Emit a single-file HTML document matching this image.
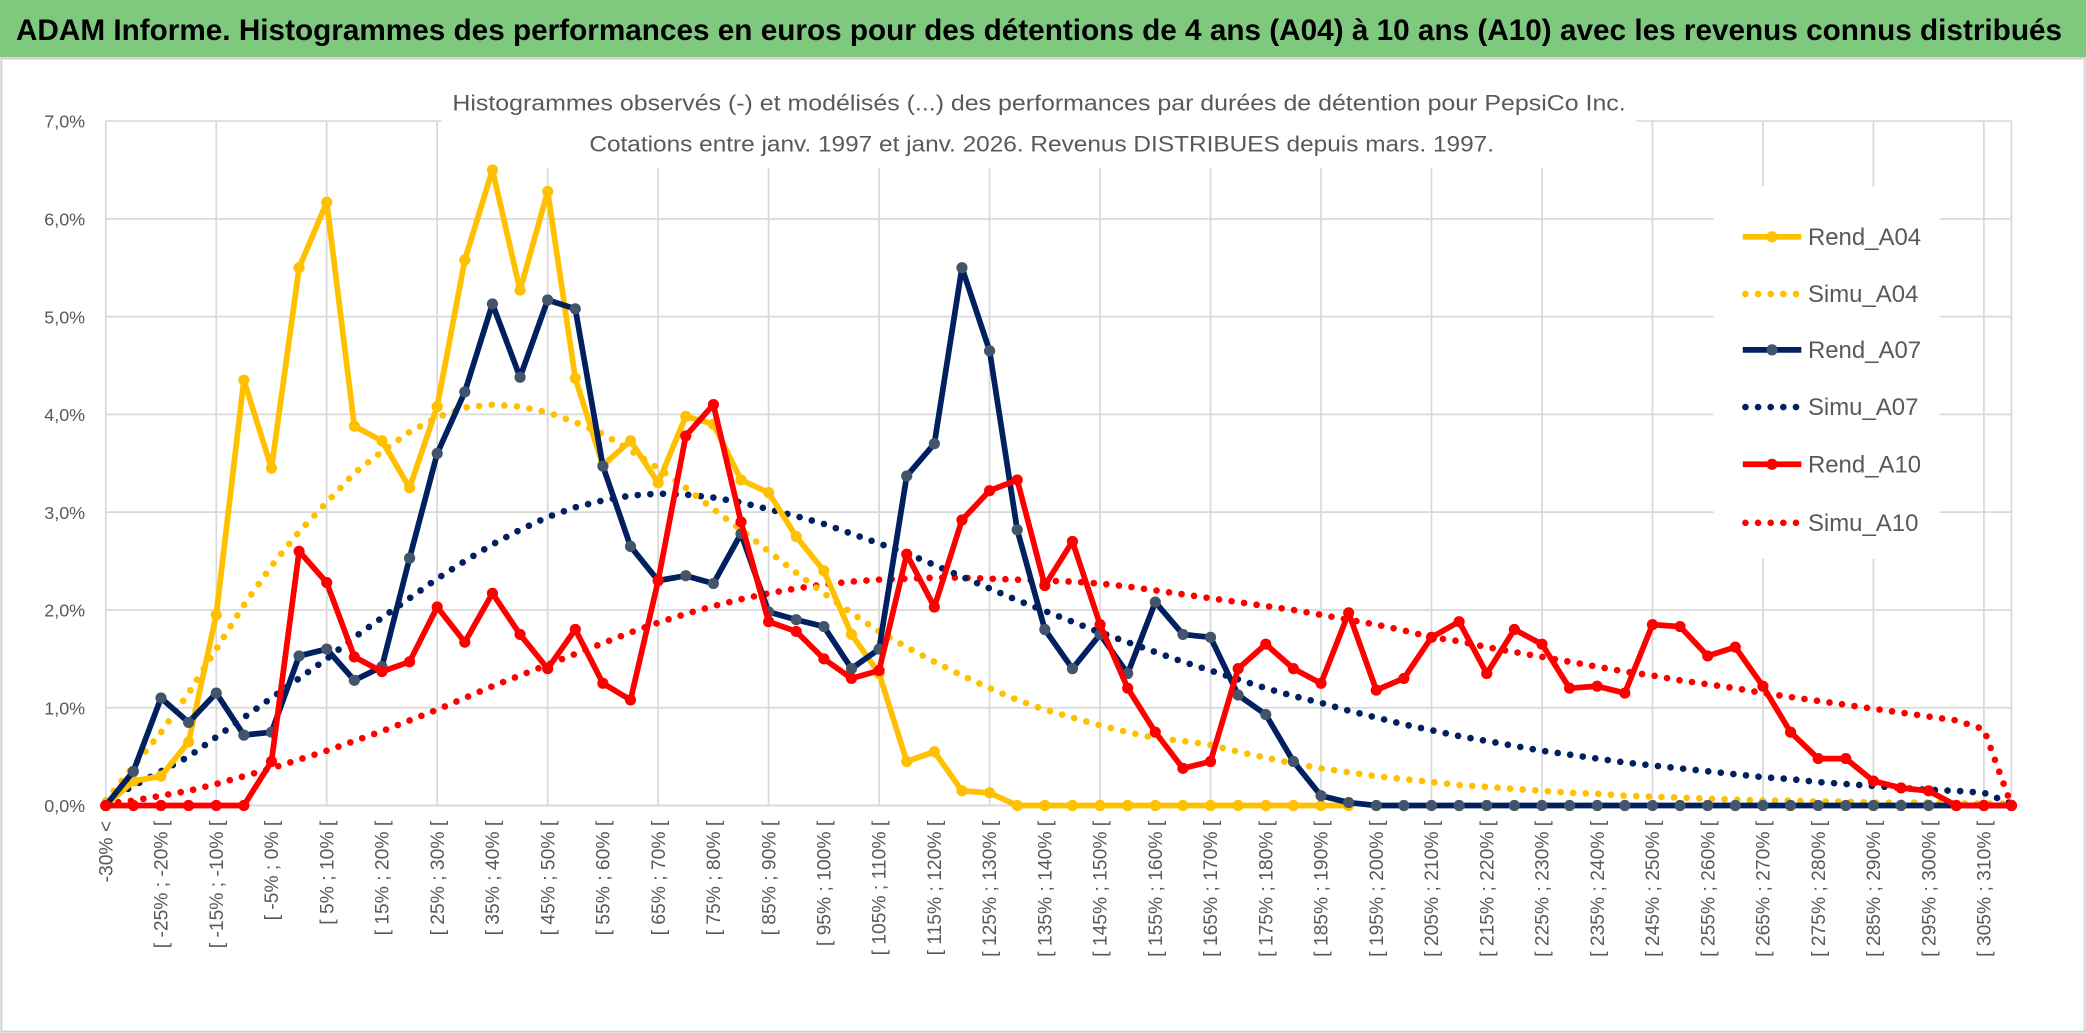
<!DOCTYPE html>
<html><head><meta charset="utf-8">
<style>
html,body{margin:0;padding:0;background:#fff;}
svg{display:block;}
text{font-family:"Liberation Sans Narrow","Liberation Sans",sans-serif;}
</style></head>
<body>
<svg id="chart" width="2086" height="1033" viewBox="0 0 1568 776.5" preserveAspectRatio="none" xmlns="http://www.w3.org/2000/svg">
  <rect x="0" y="0" width="1568" height="776.5" fill="#fff"/>
  <rect x="0" y="0" width="1568" height="43" fill="#7fc97f"/>
  <text x="12" y="30" font-size="22" font-weight="bold" fill="#000" textLength="1538" lengthAdjust="spacingAndGlyphs">ADAM Informe. Histogrammes des performances en euros pour des détentions de 4 ans (A04) à 10 ans (A10) avec les revenus connus distribués</text>
  <rect x="1" y="44" width="1566" height="731.5" fill="none" stroke="#d0d0d0" stroke-width="1.5"/>
  <g id="grid"></g>
  <rect x="332" y="60" width="898" height="66" fill="#fff"/>
  <text x="781" y="83" font-size="17" fill="#595959" text-anchor="middle" textLength="882" lengthAdjust="spacingAndGlyphs">Histogrammes observés (-) et modélisés (...) des performances par durées de détention pour PepsiCo Inc.</text>
  <text x="783" y="114" font-size="17" fill="#595959" text-anchor="middle" textLength="680" lengthAdjust="spacingAndGlyphs">Cotations entre janv. 1997 et janv. 2026. Revenus DISTRIBUES depuis mars. 1997.</text>
  <g id="yaxis"></g>
  <g id="xaxis"></g>
  <g id="series"></g>
  <rect x="1288" y="140" width="170" height="280" fill="#fff"/>
  <g id="legend"></g>
</svg>
<script>
const categories = (function(){var c=["-30% <"];for(var a=-30;a<310;a+=5){c.push("[ "+a+"% ; "+(a+5)+"% [");}c.push("310% >=");return c;})();
const yTicks = [0,1,2,3,4,5,6,7];
const yTickLabels = ["0,0%","1,0%","2,0%","3,0%","4,0%","5,0%","6,0%","7,0%"];
const rendA04 = [0,0.25,0.3,0.65,1.95,4.35,3.45,5.5,6.17,3.88,3.73,3.25,4.08,5.58,6.5,5.27,6.28,4.37,3.48,3.73,3.3,3.98,3.9,3.33,3.2,2.75,2.4,1.75,1.35,0.45,0.55,0.15,0.13,0,0,0,0,0,0,0,0,0,0,0,0,0,null,null,null,null,null,null,null,null,null,null,null,null,null,null,null,null,null,null,null,null,null,null,null,null];
const simuA04 = [0.05,0.4,0.75,1.15,1.6,2.05,2.45,2.8,3.1,3.4,3.62,3.82,3.97,4.07,4.1,4.08,4.02,3.92,3.8,3.63,3.45,3.25,3.03,2.82,2.6,2.38,2.17,1.97,1.78,1.62,1.47,1.33,1.2,1.08,0.98,0.9,0.82,0.75,0.69,0.66,0.62,0.55,0.49,0.43,0.38,0.34,0.3,0.27,0.24,0.21,0.19,0.17,0.15,0.13,0.12,0.1,0.09,0.08,0.07,0.06,0.05,0.05,0.04,0.04,0.03,0.03,0.03,0.02,0.02,0.02];
const rendA07 = [0,0.35,1.1,0.85,1.15,0.72,0.75,1.53,1.6,1.28,1.42,2.53,3.6,4.23,5.13,4.38,5.17,5.08,3.47,2.65,2.3,2.35,2.27,2.78,1.98,1.9,1.83,1.4,1.6,3.37,3.7,5.5,4.65,2.82,1.8,1.4,1.75,1.35,2.08,1.75,1.72,1.13,0.93,0.45,0.1,0.03,0,0,0,0,0,0,0,0,0,0,0,0,0,0,0,0,0,0,0,0,0,0,0,0];
const simuA07 = [0.05,0.2,0.35,0.5,0.7,0.9,1.1,1.3,1.5,1.72,1.92,2.12,2.32,2.5,2.67,2.82,2.95,3.05,3.12,3.17,3.19,3.18,3.15,3.1,3.03,2.96,2.88,2.78,2.68,2.58,2.46,2.34,2.22,2.1,1.99,1.88,1.77,1.67,1.57,1.47,1.38,1.29,1.2,1.12,1.05,0.97,0.9,0.83,0.77,0.71,0.66,0.61,0.56,0.52,0.48,0.44,0.41,0.38,0.35,0.32,0.29,0.27,0.24,0.22,0.2,0.18,0.16,0.15,0.13,0.02];
const rendA10 = [0,0,0,0,0,0,0.45,2.6,2.28,1.52,1.37,1.47,2.03,1.67,2.17,1.75,1.4,1.8,1.25,1.08,2.3,3.78,4.1,2.9,1.88,1.78,1.5,1.3,1.38,2.57,2.03,2.92,3.22,3.33,2.25,2.7,1.85,1.2,0.75,0.38,0.45,1.4,1.65,1.4,1.25,1.97,1.18,1.3,1.72,1.88,1.35,1.8,1.65,1.2,1.22,1.15,1.85,1.83,1.53,1.62,1.22,0.75,0.48,0.48,0.25,0.18,0.15,0,0,0];
const simuA10 = [0.02,0.05,0.1,0.15,0.22,0.3,0.38,0.47,0.56,0.66,0.76,0.87,0.98,1.1,1.22,1.33,1.44,1.55,1.66,1.77,1.87,1.96,2.04,2.11,2.17,2.22,2.26,2.29,2.31,2.32,2.33,2.33,2.32,2.31,2.3,2.29,2.27,2.24,2.2,2.16,2.12,2.08,2.04,2.0,1.95,1.9,1.85,1.79,1.72,1.68,1.62,1.57,1.52,1.47,1.42,1.37,1.33,1.28,1.24,1.2,1.15,1.11,1.07,1.03,0.99,0.95,0.91,0.87,0.78,0.0];

const NS="http://www.w3.org/2000/svg";
const X0=79.5, X1=1512, Y0=605.5, YPER=73.5;
function xPos(i){return X0+(X1-X0)*i/(categories.length-1);}
function yPos(v){return Y0-v*YPER;}
function mk(tag,attrs,parent){var e=document.createElementNS(NS,tag);for(var k in attrs)e.setAttribute(k,attrs[k]);parent.appendChild(e);return e;}

const grid=document.getElementById('grid');
yTicks.forEach(function(t){
  var l=mk('line',{x1:X0,x2:X1,y1:yPos(t),y2:yPos(t),stroke:'#d9d9d9','stroke-width':1.3},grid);
  
  
});
for(var i=0;i<categories.length;i+=4){
  var l=mk('line',{x1:xPos(i),x2:xPos(i),y1:yPos(7),y2:Y0,stroke:'#d9d9d9','stroke-width':1.3},grid);
  
  
}
mk('line',{x1:X1,x2:X1,y1:yPos(7),y2:Y0,stroke:'#d9d9d9','stroke-width':1.3},grid);

const yaxis=document.getElementById('yaxis');
yTicks.forEach(function(t,k){
  var tx=mk('text',{x:64,y:yPos(t)+5,'font-size':13.5,fill:'#595959','text-anchor':'end'},yaxis);
  tx.textContent=yTickLabels[k];
  
  
});
const xaxis=document.getElementById('xaxis');
mk('line',{x1:X0,x2:X1,y1:Y0,y2:Y0,stroke:'#d9d9d9','stroke-width':1.3},xaxis);
categories.forEach(function(c,i){
  if(i%2!==0)return;
  var x=xPos(i)+5, y=617;
  var tx=mk('text',{x:x,y:y,'font-size':14.5,fill:'#595959','text-anchor':'end',transform:'rotate(-90 '+x+' '+y+')'},xaxis);
  tx.textContent=c;
  
  
});

const seriesG=document.getElementById('series');
function pathFor(vals){var d='',pen=false;vals.forEach(function(v,i){if(v===null){pen=false;return;}d+=(pen?'L':'M')+xPos(i).toFixed(2)+' '+yPos(v).toFixed(2)+' ';pen=true;});return d;}
function dotted(vals,color,name){
  var p=mk('path',{d:pathFor(vals),fill:'none',stroke:color,'stroke-width':5,'stroke-linecap':'round','stroke-dasharray':'0 9.5'},seriesG);
  
  
}
function solid(vals,color,mcolor,name){
  var g=mk('g',{},seriesG);
  
  
  mk('path',{d:pathFor(vals),fill:'none',stroke:color,'stroke-width':4.3,'stroke-linejoin':'round'},g);
  vals.forEach(function(v,i){if(v===null)return;
    var c=mk('circle',{cx:xPos(i),cy:yPos(v),r:4.2,fill:mcolor},g);
    
    
  });
}
dotted(simuA10,'#ff0000','simu-a10-line');
dotted(simuA07,'#002060','simu-a07-line');
dotted(simuA04,'#ffc000','simu-a04-line');
solid(rendA04,'#ffc000','#ffc000','rend-a04-line');
solid(rendA07,'#002060','#44546a','rend-a07-line');
solid(rendA10,'#ff0000','#ff0000','rend-a10-line');

const legend=document.getElementById('legend');
const legendNames=["Rend_A04","Simu_A04","Rend_A07","Simu_A07","Rend_A10","Simu_A10"];
const legendColors=["#ffc000","#ffc000","#002060","#002060","#ff0000","#ff0000"];
const legendY=[178,221,263,306,349,393];
legendNames.forEach(function(n,k){
  var g=mk('g',{},legend);
  
  
  var y=legendY[k];
  if(k%2===0){
    mk('line',{x1:1310,x2:1354,y1:y,y2:y,stroke:legendColors[k],'stroke-width':4.3},g);
    mk('circle',{cx:1332,cy:y,r:4.2,fill:k===2?'#44546a':legendColors[k]},g);
  } else {
    mk('line',{x1:1312,x2:1352,y1:y,y2:y,stroke:legendColors[k],'stroke-width':5,'stroke-linecap':'round','stroke-dasharray':'0 9.5'},g);
  }
  var t=mk('text',{x:1359,y:y+6,'font-size':18,fill:'#595959'},g);
  t.textContent=n;
});
</script>
</body></html>
